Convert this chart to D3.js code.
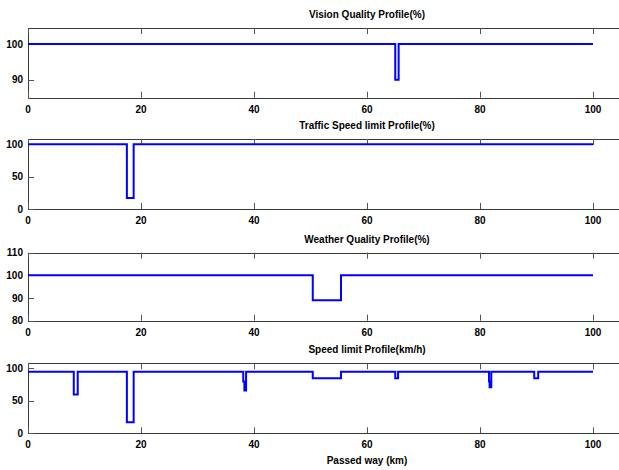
<!DOCTYPE html>
<html>
<head>
<meta charset="utf-8">
<script src="https://cdn.jsdelivr.net/npm/d3@7"></script>
<style>
  body { margin: 0; background: #fff; }
  svg { display: block; font-family: 'Liberation Sans', Arial, sans-serif; font-weight: bold; }
</style>
</head>
<body>
<div id="chart"></div>
<script>
// Data: step profiles along the passed way (km)
const visionX = [0, 65.0, 65.0, 65.6, 65.6, 100];
const visionY = [100, 100, 90, 90, 100, 100];

const trafficX = [0, 17.5, 17.5, 18.7, 18.7, 100];
const trafficY = [100, 100, 17, 17, 100, 100];

const weatherX = [0, 50.4, 50.4, 55.4, 55.4, 100];
const weatherY = [100, 100, 89, 89, 100, 100];

const speedX = [0, 8.1, 8.1, 8.8, 8.8, 17.5, 17.5, 18.7, 18.7, 38.1, 38.1, 38.3, 38.3, 38.6, 38.6,
  50.4, 50.4, 55.4, 55.4, 65.0, 65.0, 65.5, 65.5, 81.6, 81.6, 81.7, 81.7, 82.0, 82.0,
  89.6, 89.6, 90.3, 90.3, 100];
const speedY = [95, 95, 60, 60, 95, 95, 17, 17, 95, 95, 80, 80, 66, 66, 95,
  95, 85, 85, 95, 95, 85, 85, 95, 95, 80, 80, 71, 71, 95,
  95, 85, 85, 95, 95];

const titles = ['Vision Quality Profile(%)', 'Traffic Speed limit Profile(%)',
  'Weather Quality Profile(%)', 'Speed limit Profile(km/h)'];
const yDomains = [[85, 104.5], [0, 108], [80, 110], [0, 108]];
const yTicks = [[90, 100], [0, 50, 100], [80, 90, 100, 110], [0, 50, 100]];
const xTicks = [0, 20, 40, 60, 80, 100];

const width = 619, height = 470;
const panels = [
  { top: 28, bottom: 97.7, x: visionX, y: visionY },
  { top: 139, bottom: 209, x: trafficX, y: trafficY },
  { top: 252.7, bottom: 320.7, x: weatherX, y: weatherY },
  { top: 363.3, bottom: 433.3, x: speedX, y: speedY }
];

const svg = d3.select('#chart').append('svg')
  .attr('width', width)
  .attr('height', height);

// the axes run out past the right edge (xlim 0..120), like the cropped figure
const x = d3.scaleLinear().domain([0, 120]).range([28, 706]);

panels.forEach((p, i) => {
  const y = d3.scaleLinear().domain(yDomains[i]).range([p.bottom, p.top]);
  const g = svg.append('g');

  // frame
  g.append('path')
    .attr('d', `M${x.range()[1]},${Math.round(p.top) + 0.5}H${x(0) + 0.5}V${Math.round(p.bottom) + 0.5}H${x.range()[1]}`)
    .attr('fill', 'none')
    .attr('stroke', '#3a3a3a')
    .attr('stroke-width', 1);

  // x ticks inward, top and bottom
  g.selectAll('.xt').data(xTicks).enter().append('path')
    .attr('d', d => `M${Math.round(x(d)) + 0.5},${p.top}v6M${Math.round(x(d)) + 0.5},${p.bottom}v-6`)
    .attr('stroke', '#555')
    .attr('stroke-width', 1);

  g.selectAll('.xl').data(xTicks).enter().append('text')
    .attr('x', d => x(d))
    .attr('y', p.bottom + 15)
    .attr('text-anchor', 'middle')
    .attr('font-size', 10)
    .text(d => d);

  // y ticks inward
  g.selectAll('.yt').data(yTicks[i]).enter().append('path')
    .attr('d', d => `M${x(0)},${Math.round(y(d)) + 0.5}h6`)
    .attr('stroke', '#555')
    .attr('stroke-width', 1);

  g.selectAll('.yl').data(yTicks[i]).enter().append('text')
    .attr('x', 23)
    .attr('y', d => y(d))
    .attr('dy', '0.35em')
    .attr('text-anchor', 'end')
    .attr('font-size', 10)
    .text(d => d);

  // title
  g.append('text')
    .attr('x', (x.range()[0] + x.range()[1]) / 2)
    .attr('y', p.top - 10)
    .attr('text-anchor', 'middle')
    .attr('font-size', 10)
    .text(titles[i]);

  // profile line
  const pts = p.x.map((v, k) => [v, p.y[k]]);
  g.append('path')
    .datum(pts)
    .attr('d', d3.line().x(d => x(d[0])).y(d => y(d[1])))
    .attr('fill', 'none')
    .attr('stroke', '#0000ff')
    .attr('stroke-width', 2);
});

svg.append('text')
  .attr('x', (x.range()[0] + x.range()[1]) / 2)
  .attr('y', 464)
  .attr('text-anchor', 'middle')
  .attr('font-size', 10)
  .text('Passed way (km)');
</script>
</body>
</html>
